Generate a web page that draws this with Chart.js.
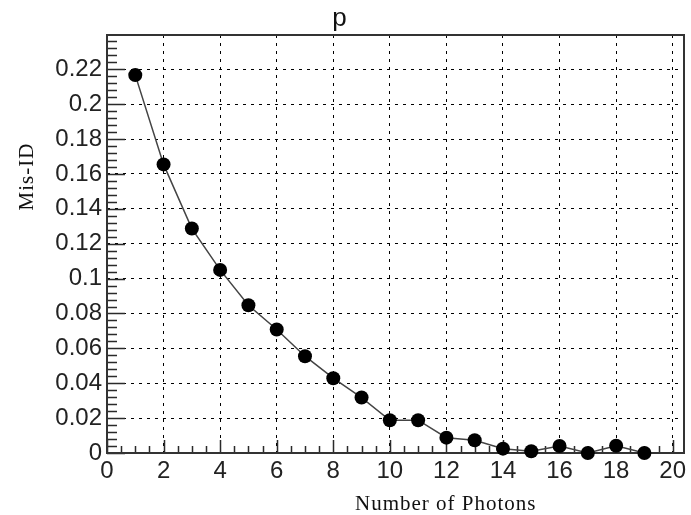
<!DOCTYPE html>
<html><head><meta charset="utf-8">
<script src="https://cdn.jsdelivr.net/npm/chart.js@4/dist/chart.umd.min.js"></script>
<style>html,body{margin:0;padding:0;background:#fff}#c{display:block}</style>
</head><body>
<canvas id="c" width="691" height="515"></canvas>
<script>
// ---- data ----
const photons = [1,2,3,4,5,6,7,8,9,10,11,12,13,14,15,16,17,18,19];
const misId   = [0.2167,0.1655,0.1287,0.1050,0.0847,0.0708,0.0555,0.0429,0.0318,0.0188,0.0188,0.0088,0.0073,0.0025,0.0010,0.0040,0.0000,0.0042,0.0000];
const xTicks  = [0,2,4,6,8,10,12,14,16,18,20];
const yTicks  = [0,0.02,0.04,0.06,0.08,0.10,0.12,0.14,0.16,0.18,0.20,0.22];
const xMinorStep = 0.5;
const yMinorStep = 0.004;
const titleText = 'p';
const xTitle = 'Number of Photons';
const yTitle = 'Mis-ID';

const points = photons.map((p,i)=>({x:p, y:misId[i]}));

const framePlugin = {
  id:'frame',
  beforeDatasetsDraw(chart){
    const {ctx, chartArea:a, scales:{x,y}} = chart;
    ctx.save();
    ctx.strokeStyle = '#2a2a2a';
    ctx.lineWidth = 1.5;
    ctx.beginPath();
    for (let k=0; k*xMinorStep <= x.max+1e-9; k++){
      const v = k*xMinorStep;
      const px = Math.round(x.getPixelForValue(v))+0.5;
      const major = xTicks.some(t=>Math.abs(t-v)<1e-9);
      const len = major?13:7;
      ctx.moveTo(px, a.bottom); ctx.lineTo(px, a.bottom-len);
    }
    for (let k=0; k*yMinorStep <= y.max+1e-9; k++){
      const v = k*yMinorStep;
      const py = Math.round(y.getPixelForValue(v))+0.5;
      const major = yTicks.some(t=>Math.abs(t-v)<1e-9);
      const len = major?18:10;
      ctx.moveTo(a.left, py); ctx.lineTo(a.left+len, py);
    }
    ctx.stroke();
    ctx.lineWidth = 2;
    ctx.strokeStyle = '#333';
    ctx.strokeRect(Math.round(a.left), Math.round(a.top), Math.round(a.right)-Math.round(a.left), Math.round(a.bottom)-Math.round(a.top));
    ctx.restore();
  },
  afterDraw(chart){
    const {ctx} = chart;
    ctx.save();
    ctx.fillStyle = '#111';
    ctx.font = "26px 'Liberation Sans', Arial, sans-serif";
    ctx.textAlign = 'center';
    ctx.textBaseline = 'alphabetic';
    ctx.fillText(titleText, 339.5, 26);
    ctx.font = "21px 'Liberation Serif', 'Times New Roman', serif";
    try { ctx.letterSpacing = '1px'; } catch(e){}
    ctx.textAlign = 'left';
    ctx.fillText(xTitle, 355, 510);
    ctx.save();
    ctx.translate(33, 176.5);
    ctx.rotate(-Math.PI/2);
    ctx.textAlign = 'center';
    ctx.fillText(yTitle, 0, 0);
    ctx.restore();
    try { ctx.letterSpacing = '0px'; } catch(e){}
    ctx.restore();
  }
};

const tickFont = {family:"'Liberation Sans', Arial, sans-serif", size:24};

new Chart(document.getElementById('c'), {
  type:'line',
  data:{ datasets:[{
    data: points,
    borderColor:'#444',
    borderWidth:1.5,
    tension:0,
    pointRadius:7,
    pointHoverRadius:7,
    pointBackgroundColor:'#000',
    pointBorderColor:'#000',
    pointBorderWidth:0,
    clip:false
  }]},
  options:{
    responsive:false,
    animation:false,
    devicePixelRatio:1,
    layout:{padding:{top:35,right:7,bottom:0,left:0}},
    plugins:{legend:{display:false}, tooltip:{enabled:false}, title:{display:false}},
    scales:{
      x:{
        type:'linear', min:0, max:20.4,
        afterBuildTicks(s){ s.ticks = xTicks.map(v=>({value:v})); },
        afterFit(s){ s.height = 62; },
        grid:{color:'#000', lineWidth:1, drawTicks:false},
        border:{display:false, dash:[3,5]},
        ticks:{autoSkip:false, maxRotation:0, minRotation:0, padding:4, color:'#222',
          font:tickFont, callback:v=>String(v)}
      },
      y:{
        type:'linear', min:0, max:0.2397,
        afterBuildTicks(s){ s.ticks = yTicks.map(v=>({value:v})); },
        afterFit(s){ s.width = 107; },
        grid:{color:'#000', lineWidth:1, drawTicks:false},
        border:{display:false, dash:[3,5]},
        ticks:{autoSkip:false, padding:5, color:'#222',
          font:tickFont, callback:v=>String(+(+v).toFixed(2))}
      }
    }
  },
  plugins:[framePlugin]
});
</script>
</body></html>
